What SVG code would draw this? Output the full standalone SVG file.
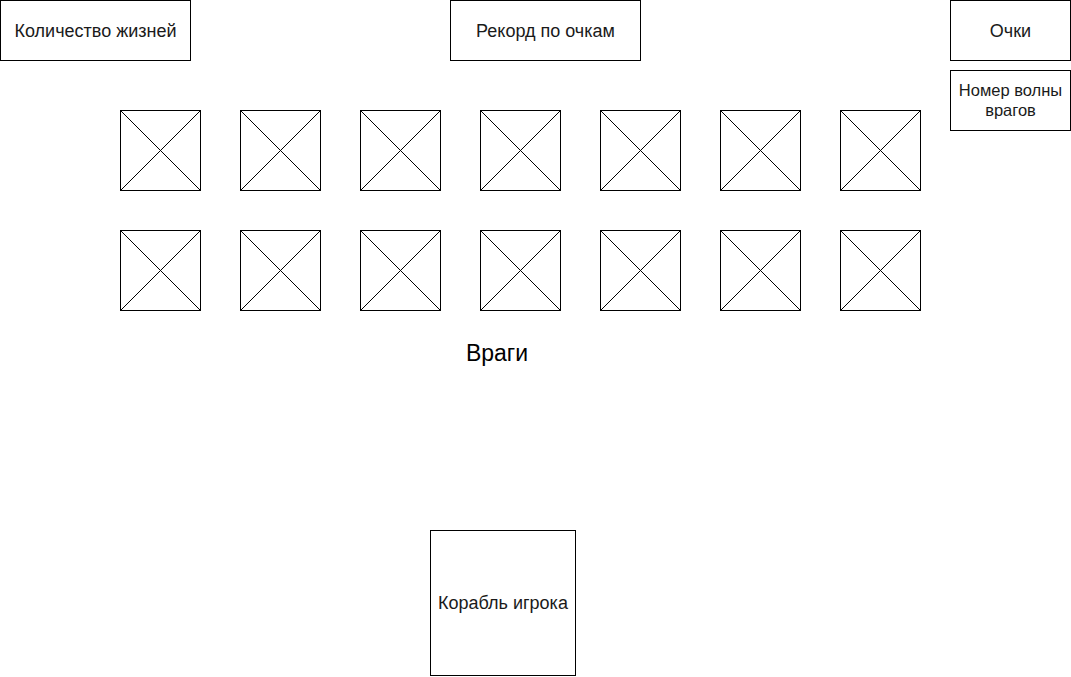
<svg xmlns="http://www.w3.org/2000/svg" width="1071" height="677" viewBox="0 0 1071 677">
<style>
.box{fill:#fff;stroke:#000;stroke-width:1}
.x{fill:none;stroke:#000;stroke-width:1}
.lbl{font-family:"Liberation Sans",Arial,sans-serif;font-size:18px;fill:#1a1a1a;text-anchor:middle}
.sm{font-size:16.5px}
.big{font-family:"Liberation Sans",Arial,sans-serif;font-size:23px;fill:#000;text-anchor:middle}
</style>
<defs>
<g id="enemy">
<rect class="box" x="0" y="0" width="80" height="80"/>
<path class="x" d="M0 0L80 80M80 0L0 80"/>
</g>
</defs>
<rect x="0" y="0" width="1071" height="677" fill="#fff"/>
<g id="connectors"/>
<g id="lives"><rect class="box" x="0.5" y="0.5" width="190" height="60"/><text class="lbl" x="95.5" y="36.5">Количество жизней</text></g>
<g id="record"><rect class="box" x="450.5" y="0.5" width="190" height="60"/><text class="lbl" x="545.5" y="36.5">Рекорд по очкам</text></g>
<g id="score"><rect class="box" x="950.5" y="0.5" width="120" height="60"/><text class="lbl" x="1010.5" y="36.5">Очки</text></g>
<g id="wave"><rect class="box" x="950.5" y="70.5" width="120" height="60"/><text class="lbl sm" x="1010.5" y="95.5">Номер волны</text><text class="lbl sm" x="1010.5" y="115.5">врагов</text></g>
<g id="enemies">
<use href="#enemy" x="120.5" y="110.5"/>
<use href="#enemy" x="240.5" y="110.5"/>
<use href="#enemy" x="360.5" y="110.5"/>
<use href="#enemy" x="480.5" y="110.5"/>
<use href="#enemy" x="600.5" y="110.5"/>
<use href="#enemy" x="720.5" y="110.5"/>
<use href="#enemy" x="840.5" y="110.5"/>
<use href="#enemy" x="120.5" y="230.5"/>
<use href="#enemy" x="240.5" y="230.5"/>
<use href="#enemy" x="360.5" y="230.5"/>
<use href="#enemy" x="480.5" y="230.5"/>
<use href="#enemy" x="600.5" y="230.5"/>
<use href="#enemy" x="720.5" y="230.5"/>
<use href="#enemy" x="840.5" y="230.5"/>
</g>
<g id="enemies-label"><text class="big" x="497" y="361">Враги</text></g>
<g id="ship"><rect class="box" x="430.5" y="530.5" width="145" height="145"/><text class="lbl" x="503" y="609">Корабль игрока</text></g>
</svg>
